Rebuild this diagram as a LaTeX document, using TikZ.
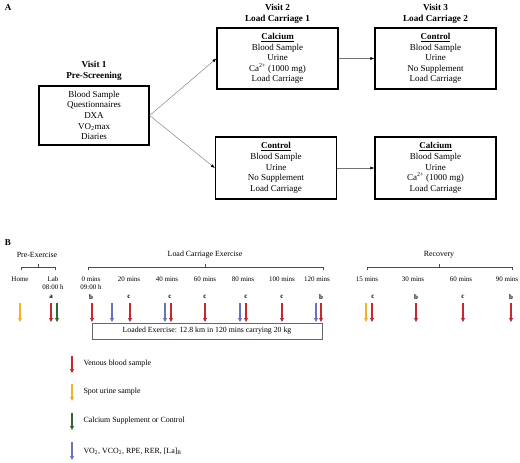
\documentclass[tikz,border=0pt]{standalone}
\usepackage{fontspec}
\setmainfont{Liberation Serif}
\usetikzlibrary{arrows.meta}
\definecolor{bloodred}{RGB}{200,40,45}
\definecolor{urineyellow}{RGB}{240,180,40}
\definecolor{suppgreen}{RGB}{45,105,45}
\definecolor{gasblue}{RGB}{105,115,185}
\begin{document}
\begin{tikzpicture}[x=1pt,y=-1pt,
    visit/.style={draw,line width=1.3pt,minimum width=121pt,minimum height=61pt,inner sep=0pt,align=center,font=\fontsize{9}{10.6}\selectfont},
    head/.style={align=center,font=\bfseries\fontsize{9.2}{11}\selectfont},
    link/.style={draw=black!55,-{Latex[length=4pt,width=3pt,black]}},
    sample/.style={line width=1.1pt,-{Triangle[length=4pt,width=4pt]}},
    timelbl/.style={align=center,font=\fontsize{7}{8}\selectfont},
    phase/.style={font=\fontsize{7.9}{9}\selectfont},
    legtxt/.style={anchor=west,font=\fontsize{7.9}{9}\selectfont}]
\useasboundingbox (0,0) rectangle (520,463);
% panel A
\node[font=\bfseries\small] (lblA) at (8,8) {A};
\node[visit,minimum width=110pt,minimum height=59pt] (v1) at (94,115.5) {Blood Sample\\Questionnaires\\DXA\\VO\textsubscript{2}max\\Diaries};
\node[head] (h1) at (94,71) {Visit 1\\Pre-Screening};
\node[visit] (v2a) at (277.5,58.5) {\textbf{\underline{Calcium}}\\Blood Sample\\Urine\\Ca\textsuperscript{2+} (1000 mg)\\Load Carriage};
\node[visit] (v3a) at (435.5,58.5) {\textbf{\underline{Control}}\\Blood Sample\\Urine\\No Supplement\\Load Carriage};
\node[visit,minimum height=62pt] (v2b) at (276,168) {\textbf{\underline{Control}}\\Blood Sample\\Urine\\No Supplement\\Load Carriage};
\node[visit,minimum height=62pt] (v3b) at (435.5,168) {\textbf{\underline{Calcium}}\\Blood Sample\\Urine\\Ca\textsuperscript{2+} (1000 mg)\\Load Carriage};
\node[head] (h2) at (277.5,14) {Visit 2\\Load Carriage 1};
\node[head] (h3) at (435.5,14) {Visit 3\\Load Carriage 2};
\draw[link] (v1.east) -- (v2a.west);
\draw[link] (v1.east) -- (v2b.west);
\draw[link] (v2a) -- (v3a);
\draw[link] (v2b) -- (v3b);
% panel B
\node[font=\bfseries\small] (lblB) at (8,243) {B};
\node[phase] (pre) at (37,255) {Pre-Exercise};
\node[phase] (lce) at (205,255) {Load Carriage Exercise};
\node[phase] (rec) at (439,255) {Recovery};
\foreach \a/\b in {21/55,88/323,367/512}
  \draw[black!70,line width=.4pt] (\a,270) -- (\a,267) -- (\b,267) -- (\b,270)
    ({(\a+\b)/2},267) -- ({(\a+\b)/2},264);
\foreach \x/\t in {20/Home,129/20 mins,167/40 mins,205/60 mins,243/80 mins,282/100 mins,317/120 mins,367/15 mins,413/30 mins,461/60 mins,507/90 mins}
  \node[timelbl] at (\x,279) {\t};
\node[timelbl] (lab) at (53,283.5) {Lab\\08:00 h};
\node[timelbl] (start) at (91,283.5) {0 mins\\09:00 h};
\foreach \x/\l in {51/a,91/b,129/c,170/c,205/c,246/c,282/c,321/b,373/c,416/b,463/c,511/b}
  \node[timelbl,font=\bfseries\fontsize{7}{8}\selectfont] at (\x,297) {\l};
\node[draw=black!60,line width=.6pt,minimum width=230pt,minimum height=16pt,inner sep=0pt,font=\fontsize{7.8}{9}\selectfont] (load) at (207,331) {Loaded Exercise: 12.8 km in 120 mins carrying 20 kg};
\foreach \x/\c in {20/urineyellow,51/bloodred,57/suppgreen,92/bloodred,112/gasblue,130/bloodred,165/gasblue,171/bloodred,205/bloodred,240/gasblue,246/bloodred,282/bloodred,316/gasblue,321/bloodred,366/urineyellow,372/bloodred,416/bloodred,463/bloodred,511/bloodred}
  \draw[sample,\c] (\x,303) -- (\x,322);
% legend
\foreach \y/\c/\t in {356/bloodred/Venous blood sample,384/urineyellow/Spot urine sample,413/suppgreen/Calcium Supplement or Control}
  {\draw[sample,\c] (72,\y) -- (72,\y+17);
   \node[legtxt] at (80,\y+8) {\t};}
\draw[sample,gasblue] (72,442) -- (72,460);
\node[legtxt] (leggas) at (80,451) {VO\textsubscript{2}, VCO\textsubscript{2}, RPE, RER, [La]\textsubscript{B}};
\end{tikzpicture}
\end{document}
